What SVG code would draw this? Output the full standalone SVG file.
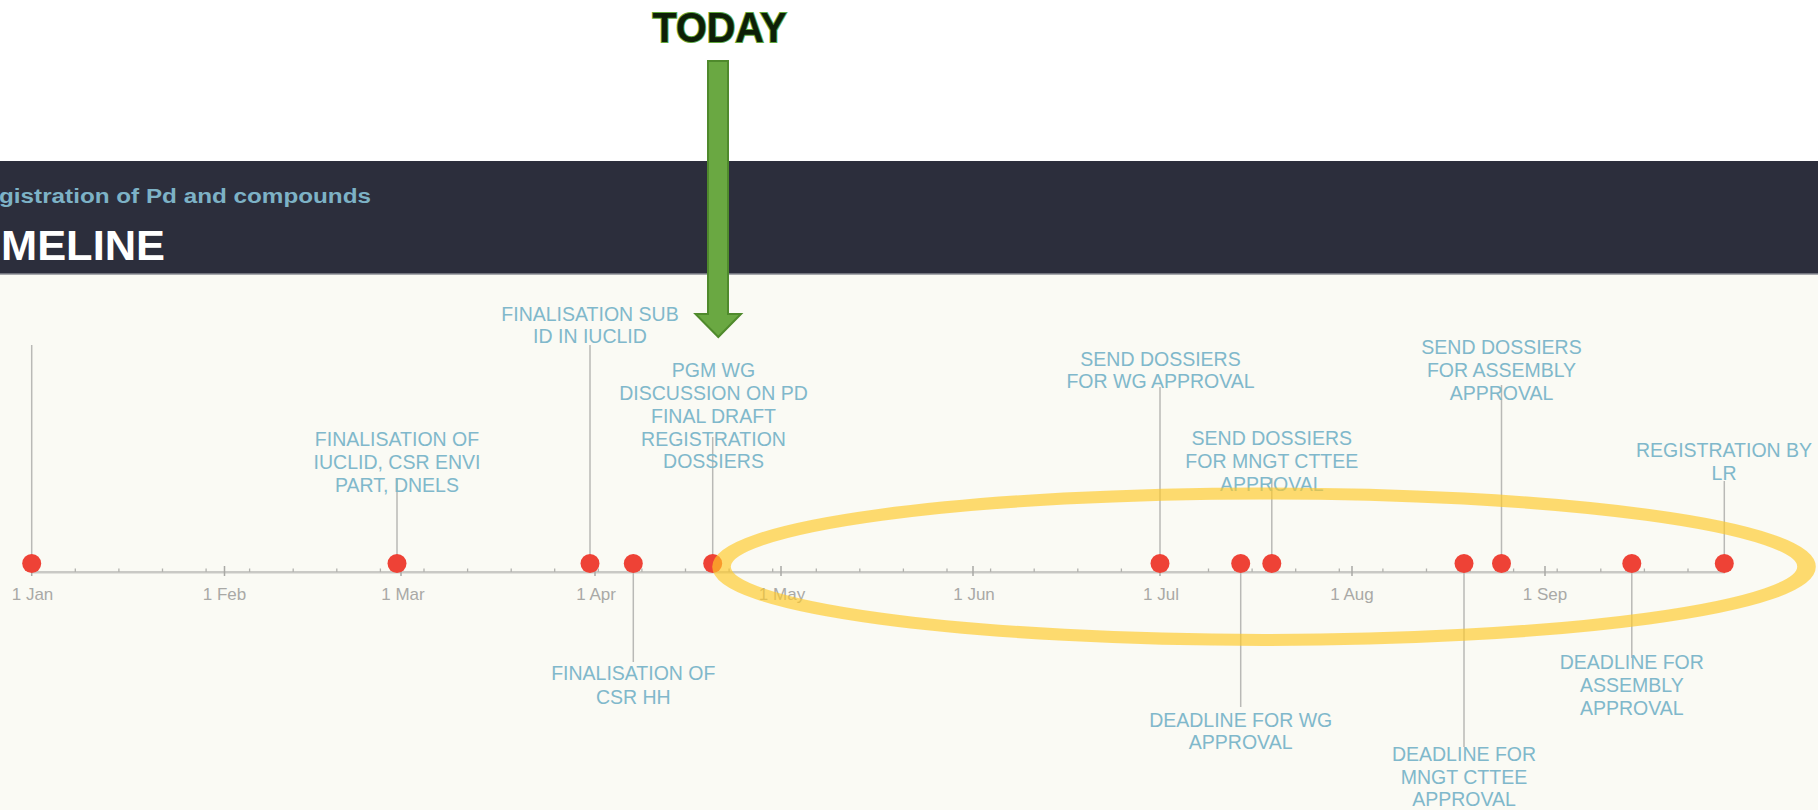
<svg xmlns="http://www.w3.org/2000/svg" width="1818" height="810" viewBox="0 0 1818 810">
<defs>
<style>
.lbl{font-family:"Liberation Sans",Arial,sans-serif;font-size:19.5px;fill:#80b8cb;text-anchor:middle}
.tick{font-family:"Liberation Sans",Arial,sans-serif;font-size:17px;fill:#a9a9a6;text-anchor:middle}
.stem{stroke:#b9b9b6;stroke-width:1.5;fill:none}
.dot{fill:#ee4236}
.minor{stroke:#b2b2ae;stroke-width:1.3}
.major{stroke:#a9a9a5;stroke-width:1.5}
</style>
</defs>
<rect x="0" y="0" width="1818" height="810" fill="#ffffff"/>
<rect x="0" y="274" width="1818" height="536" fill="#fafaf4"/>
<g id="header">
<rect x="0" y="161" width="1818" height="113" fill="#2c2e3c"/>
<line x1="0" y1="274" x2="1818" y2="274" stroke="#8a8d95" stroke-width="1.5"/>
<text x="-1" y="203" font-family="'Liberation Sans',Arial,sans-serif" font-weight="bold" font-size="20" fill="#7db2c6" textLength="372" lengthAdjust="spacingAndGlyphs">gistration of Pd and compounds</text>
<text x="1" y="260" font-family="'Liberation Sans',Arial,sans-serif" font-weight="bold" font-size="42" fill="#ffffff" textLength="164" lengthAdjust="spacingAndGlyphs">MELINE</text>
</g>
<g id="axis">
<line x1="31.7" y1="572.3" x2="1725" y2="572.3" stroke="#c9c9c5" stroke-width="2.5"/>
<g class="minor">
<path d="M75.3 568.5v3.5M118.9 568.5v3.5M162.5 568.5v3.5M206.1 568.5v3.5M249.6 568.5v3.5M293.2 568.5v3.5M336.8 568.5v3.5M380.4 568.5v3.5M424 568.5v3.5M467.6 568.5v3.5M511.2 568.5v3.5M554.7 568.5v3.5M598.3 568.5v3.5M641.9 568.5v3.5M685.5 568.5v3.5M729.1 568.5v3.5M772.7 568.5v3.5M816.3 568.5v3.5M859.8 568.5v3.5M903.4 568.5v3.5M947 568.5v3.5M990.6 568.5v3.5M1034.2 568.5v3.5M1077.8 568.5v3.5M1121.4 568.5v3.5M1164.9 568.5v3.5M1208.5 568.5v3.5M1252.1 568.5v3.5M1295.7 568.5v3.5M1339.3 568.5v3.5M1382.9 568.5v3.5M1426.5 568.5v3.5M1470 568.5v3.5M1513.6 568.5v3.5M1557.2 568.5v3.5M1600.8 568.5v3.5M1644.4 568.5v3.5M1688 568.5v3.5"/>
</g>
<g class="major">
<path d="M31.7 566v10M224.5 566v10M401 566v10M595 566v10M781 566v10M973 566v10M1160 566v10M1352 566v10M1545 566v10"/>
</g>
<text class="tick" x="32.5" y="600">1 Jan</text>
<text class="tick" x="224.5" y="600">1 Feb</text>
<text class="tick" x="403" y="600">1 Mar</text>
<text class="tick" x="596" y="600">1 Apr</text>
<text class="tick" x="782" y="600">1 May</text>
<text class="tick" x="974" y="600">1 Jun</text>
<text class="tick" x="1161" y="600">1 Jul</text>
<text class="tick" x="1352" y="600">1 Aug</text>
<text class="tick" x="1545" y="600">1 Sep</text>
</g>
<g id="connectors">
<line class="stem" x1="31.7" y1="345" x2="31.7" y2="563"/>
<line class="stem" x1="397" y1="478" x2="397" y2="563"/>
<line class="stem" x1="590" y1="345" x2="590" y2="563"/>
<line class="stem" x1="633.3" y1="563" x2="633.3" y2="662"/>
<line class="stem" x1="712.7" y1="437" x2="712.7" y2="563"/>
<line class="stem" x1="1160" y1="387" x2="1160" y2="563"/>
<line class="stem" x1="1240.7" y1="563" x2="1240.7" y2="707"/>
<line class="stem" x1="1271.8" y1="478" x2="1271.8" y2="563"/>
<line class="stem" x1="1464" y1="563" x2="1464" y2="747"/>
<line class="stem" x1="1501.5" y1="385" x2="1501.5" y2="563"/>
<line class="stem" x1="1631.8" y1="563" x2="1631.8" y2="658"/>
<line class="stem" x1="1724.3" y1="481" x2="1724.3" y2="563"/>
</g>
<g id="m-jan"><circle class="dot" cx="31.7" cy="563.5" r="9.5"/></g>
<g id="m-iuclid-csr">
<circle class="dot" cx="397" cy="563.5" r="9.5"/>
<text class="lbl" x="397" y="445.5">FINALISATION OF</text>
<text class="lbl" x="397" y="468.5">IUCLID, CSR ENVI</text>
<text class="lbl" x="397" y="491.5">PART, DNELS</text>
</g>
<g id="m-sub-id">
<circle class="dot" cx="590" cy="563.5" r="9.5"/>
<text class="lbl" x="590" y="320.5">FINALISATION SUB</text>
<text class="lbl" x="590" y="343">ID IN IUCLID</text>
</g>
<g id="m-csr-hh">
<circle class="dot" cx="633.3" cy="563.5" r="9.5"/>
<text class="lbl" x="633.3" y="680">FINALISATION OF</text>
<text class="lbl" x="633.3" y="703.5">CSR HH</text>
</g>
<g id="m-pgm">
<circle class="dot" cx="712.7" cy="563.5" r="9.5"/>
<text class="lbl" x="713.5" y="377">PGM WG</text>
<text class="lbl" x="713.5" y="400">DISCUSSION ON PD</text>
<text class="lbl" x="713.5" y="423">FINAL DRAFT</text>
<text class="lbl" x="713.5" y="445.5">REGISTRATION</text>
<text class="lbl" x="713.5" y="468">DOSSIERS</text>
</g>
<g id="m-send-wg">
<circle class="dot" cx="1160" cy="563.5" r="9.5"/>
<text class="lbl" x="1160.5" y="365.5">SEND DOSSIERS</text>
<text class="lbl" x="1160.5" y="388">FOR WG APPROVAL</text>
</g>
<g id="m-deadline-wg">
<circle class="dot" cx="1240.7" cy="563.5" r="9.5"/>
<text class="lbl" x="1240.7" y="726.5">DEADLINE FOR WG</text>
<text class="lbl" x="1240.7" y="749">APPROVAL</text>
</g>
<g id="m-send-mngt">
<circle class="dot" cx="1271.8" cy="563.5" r="9.5"/>
<text class="lbl" x="1271.8" y="445">SEND DOSSIERS</text>
<text class="lbl" x="1271.8" y="468">FOR MNGT CTTEE</text>
<text class="lbl" x="1271.8" y="490.5">APPROVAL</text>
</g>
<g id="m-deadline-mngt">
<circle class="dot" cx="1464" cy="563.5" r="9.5"/>
<text class="lbl" x="1464" y="760.5">DEADLINE FOR</text>
<text class="lbl" x="1464" y="783.5">MNGT CTTEE</text>
<text class="lbl" x="1464" y="806">APPROVAL</text>
</g>
<g id="m-send-assembly">
<circle class="dot" cx="1501.5" cy="563.5" r="9.5"/>
<text class="lbl" x="1501.5" y="354">SEND DOSSIERS</text>
<text class="lbl" x="1501.5" y="377">FOR ASSEMBLY</text>
<text class="lbl" x="1501.5" y="400">APPROVAL</text>
</g>
<g id="m-deadline-assembly">
<circle class="dot" cx="1631.8" cy="563.5" r="9.5"/>
<text class="lbl" x="1631.8" y="669">DEADLINE FOR</text>
<text class="lbl" x="1631.8" y="692">ASSEMBLY</text>
<text class="lbl" x="1631.8" y="714.5">APPROVAL</text>
</g>
<g id="m-registration">
<circle class="dot" cx="1724.3" cy="563.5" r="9.5"/>
<text class="lbl" x="1724" y="456.5">REGISTRATION BY</text>
<text class="lbl" x="1724" y="480">LR</text>
</g>
<g id="highlight">
<ellipse cx="0" cy="0" rx="350" ry="73.3" fill="none" stroke="#ffc926" stroke-opacity="0.65" stroke-width="12" transform="translate(1264,566.7) scale(1.55,1)"/>
</g>
<g id="today">
<text x="719.5" y="41.5" font-family="'Liberation Sans',Arial,sans-serif" font-weight="bold" font-size="42" fill="#0d1f07" stroke="#5fa83a" stroke-width="2" paint-order="stroke" text-anchor="middle" textLength="134" lengthAdjust="spacingAndGlyphs">TODAY</text>
<polygon points="708,61 728,61 728,314 741,314 718.3,337 695.5,314 708,314" fill="#6aa842" stroke="#4f8a2c" stroke-width="2" stroke-linejoin="miter"/>
</g>
</svg>
